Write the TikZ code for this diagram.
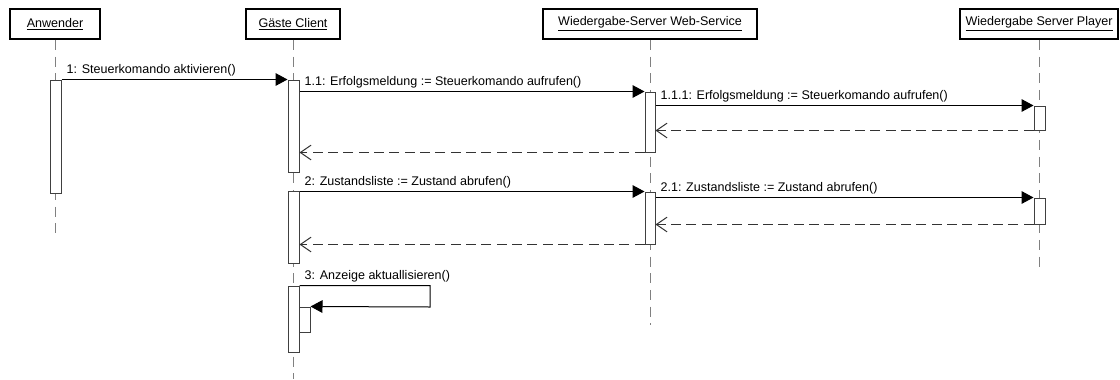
\documentclass[tikz,border=0pt]{standalone}
\usepackage{fontspec}
\setmainfont{Liberation Sans}
\usetikzlibrary{arrows.meta,fit}

\begin{document}
\begin{tikzpicture}[x=0.75pt, y=-0.75pt,
    every node/.style={font=\fontsize{9.4}{11}\selectfont},
    head/.style={draw, line width=1.4pt, minimum height=22.5pt, inner sep=0pt},
    life/.style={gray, line width=0.75pt, dash pattern=on 7.5pt off 5pt},
    act/.style={draw=black!75, line width=0.75pt, fill=white, inner sep=0pt},
    msg/.style={line width=0.75pt, -{Triangle[length=9pt,width=9.5pt]}},
    ret/.style={black!80, line width=0.75pt, dash pattern=on 7.5pt off 4pt, -{Straight Barb[length=8pt,width=11pt]}},
    lbl/.style={anchor=base west, inner sep=0pt, xshift=3.5pt, yshift=4.5pt}]

    \useasboundingbox (0,0) rectangle (1120,379);

    % objects and their lifelines
    \node[head, minimum width=67.5pt]  (anw) at (55,24)   {\underline{Anwender}};
    \node[head, minimum width=70pt]    (gst) at (293,24)  {\underline{Gäste Client}};
    \node[head, minimum width=160pt]   (web) at (650,24)  {\underline{Wiedergabe-Server Web-Service}};
    \node[head, minimum width=119pt]   (ply) at (1039,24) {\underline{Wiedergabe Server Player}};

    \coordinate (anw-end) at (55,236);
    \coordinate (gst-end) at (293,379);
    \coordinate (web-end) at (650,325);
    \coordinate (ply-end) at (1039,272);
    \draw[life] (anw) -- (anw-end);
    \draw[life] (gst) -- (gst-end);
    \draw[life] (web) -- (web-end);
    \draw[life] (ply) -- (ply-end);

    % activations
    \node[act, fit={(50,80) (61,193)}]    (a1) {};
    \node[act, fit={(288,80) (299,172)}]  (g1) {};
    \node[act, fit={(288,191) (299,263)}] (g2) {};
    \node[act, fit={(288,286) (299,352)}] (g3) {};
    \node[act, fit={(299,307) (310,332)}] (g4) {};
    \node[act, fit={(645,92) (655,152)}]  (w1) {};
    \node[act, fit={(645,192) (655,244)}] (w2) {};
    \node[act, fit={(1034,106) (1045,130)}] (p1) {};
    \node[act, fit={(1034,198) (1045,224)}] (p2) {};

    % calls
    \draw[msg] (a1.north east) -- node[lbl, pos=0] (m1) {1: Steuerkomando aktivieren()} (g1.north west);
    \draw[msg] (g1.east |- w1.north) -- node[lbl, pos=0] (m11) {1.1: Erfolgsmeldung := Steuerkomando aufrufen()} (w1.north west);
    \draw[msg] (w1.east |- p1.north) -- node[lbl, pos=0] (m111) {1.1.1: Erfolgsmeldung := Steuerkomando aufrufen()} (p1.north west);
    \draw[ret] (p1.south west) -- (w1.east |- p1.south);
    \draw[ret] (w1.south west) -- (g1.east |- w1.south);

    \draw[msg] (g2.east |- w2.north) -- node[lbl, pos=0] (m2) {2: Zustandsliste := Zustand abrufen()} (w2.north west);
    \draw[msg] (w2.east |- p2.north) -- node[lbl, pos=0] (m21) {2.1: Zustandsliste := Zustand abrufen()} (p2.north west);
    \draw[ret] (p2.south west) -- (w2.east |- p2.south);
    \draw[ret] (w2.south west) -- (g2.east |- w2.south);

    % self call
    \coordinate (loop) at (430,307);
    \draw[msg] (g3.north east) -- node[lbl, pos=0] (m3) {3: Anzeige aktuallisieren()} (g3.north east -| loop) -- (loop) -- (g4.north east);
\end{tikzpicture}
\end{document}
